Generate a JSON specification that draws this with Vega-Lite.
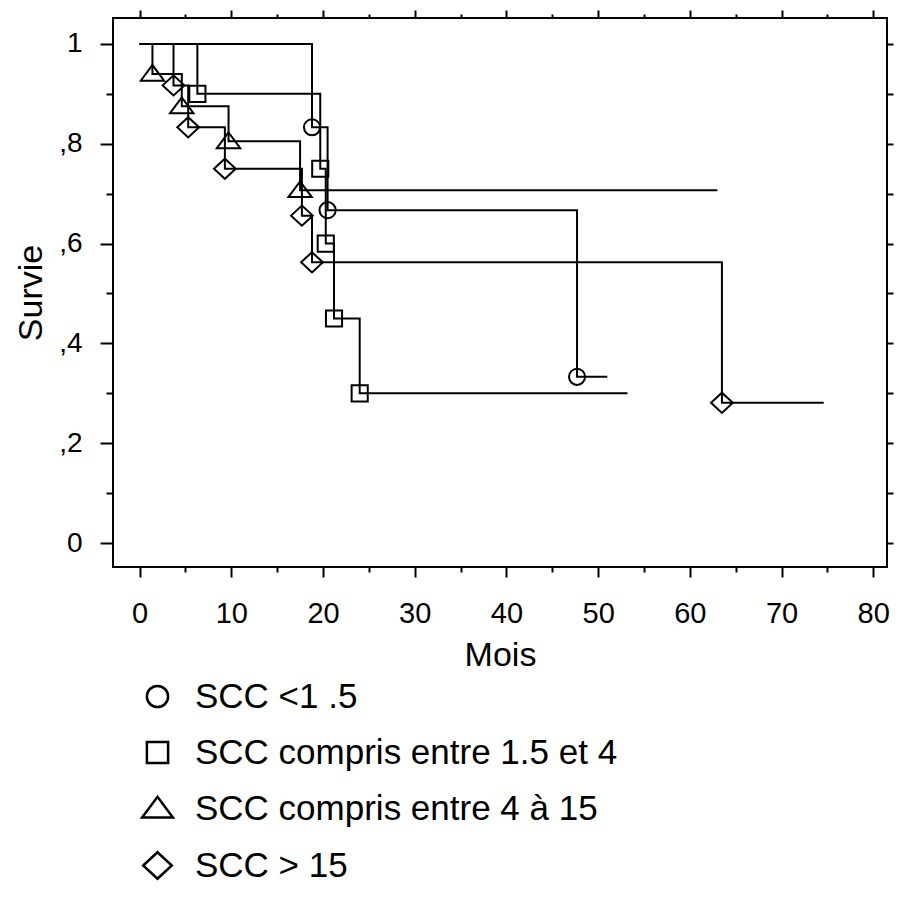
{
  "$schema": "https://vega.github.io/schema/vega-lite/v6.json",
  "autosize": {"type": "none"},
  "padding": {"left": 113, "top": 18, "right": 16, "bottom": 339},
  "width": 774,
  "height": 549,
  "background": "white",
  "config": {
    "view": {"stroke": "black", "strokeWidth": 2},
    "font": "Liberation Sans",
    "axis": {"grid": false, "domain": false, "tickColor": "black", "tickWidth": 2, "labelColor": "black", "titleColor": "black", "labelFont": "Liberation Sans", "titleFont": "Liberation Sans", "titleFontWeight": "normal"}
  },
  "data": {
    "values": [
      {"groupe": "SCC <1 .5", "t": 0, "s": 1, "ev": 0},
      {"groupe": "SCC <1 .5", "t": 18.8, "s": 0.833, "ev": 1},
      {"groupe": "SCC <1 .5", "t": 20.5, "s": 0.667, "ev": 1},
      {"groupe": "SCC <1 .5", "t": 47.7, "s": 0.333, "ev": 1},
      {"groupe": "SCC <1 .5", "t": 51, "s": 0.333, "ev": 0},
      {"groupe": "SCC compris entre 1.5 et 4", "t": 0, "s": 1, "ev": 0},
      {"groupe": "SCC compris entre 1.5 et 4", "t": 6.3, "s": 0.9, "ev": 1},
      {"groupe": "SCC compris entre 1.5 et 4", "t": 19.7, "s": 0.75, "ev": 1},
      {"groupe": "SCC compris entre 1.5 et 4", "t": 20.3, "s": 0.6, "ev": 1},
      {"groupe": "SCC compris entre 1.5 et 4", "t": 21.2, "s": 0.45, "ev": 1},
      {"groupe": "SCC compris entre 1.5 et 4", "t": 24, "s": 0.3, "ev": 1},
      {"groupe": "SCC compris entre 1.5 et 4", "t": 53.2, "s": 0.3, "ev": 0},
      {"groupe": "SCC compris entre 4 à 15", "t": 0, "s": 1, "ev": 0},
      {"groupe": "SCC compris entre 4 à 15", "t": 1.4, "s": 0.94, "ev": 1},
      {"groupe": "SCC compris entre 4 à 15", "t": 4.6, "s": 0.875, "ev": 1},
      {"groupe": "SCC compris entre 4 à 15", "t": 9.7, "s": 0.805, "ev": 1},
      {"groupe": "SCC compris entre 4 à 15", "t": 17.5, "s": 0.707, "ev": 1},
      {"groupe": "SCC compris entre 4 à 15", "t": 63, "s": 0.707, "ev": 0},
      {"groupe": "SCC > 15", "t": 0, "s": 1, "ev": 0},
      {"groupe": "SCC > 15", "t": 3.7, "s": 0.917, "ev": 1},
      {"groupe": "SCC > 15", "t": 5.3, "s": 0.833, "ev": 1},
      {"groupe": "SCC > 15", "t": 9.3, "s": 0.75, "ev": 1},
      {"groupe": "SCC > 15", "t": 17.7, "s": 0.656, "ev": 1},
      {"groupe": "SCC > 15", "t": 18.8, "s": 0.5625, "ev": 1},
      {"groupe": "SCC > 15", "t": 63.5, "s": 0.281, "ev": 1},
      {"groupe": "SCC > 15", "t": 74.6, "s": 0.281, "ev": 0}
    ]
  },
  "resolve": {"axis": {"x": "independent", "y": "independent"}},
  "layer": [
    {
      "mark": {"type": "line", "interpolate": "step-after", "color": "black", "strokeWidth": 2},
      "encoding": {
        "x": {"field": "t", "type": "quantitative", "scale": {"domain": [-2.9, 81.5], "nice": false, "zero": false},
              "axis": {"orient": "bottom", "values": [0, 10, 20, 30, 40, 50, 60, 70, 80], "tickSize": 10, "labelFontSize": 29, "labelPadding": 22, "title": "Mois", "titleFontSize": 34, "titlePadding": 10}},
        "y": {"field": "s", "type": "quantitative", "scale": {"domain": [-0.048, 1.052], "nice": false, "zero": false},
              "axis": {"orient": "left", "values": [0, 0.2, 0.4, 0.6, 0.8, 1], "tickSize": 13, "labelFontSize": 28, "labelPadding": 18,
                       "labelExpr": "datum.value == 0 ? '0' : datum.value == 1 ? '1' : ',' + format(datum.value * 10, '.0f')",
                       "title": "Survie", "titleFontSize": 34, "titlePadding": 10}},
        "detail": {"field": "groupe"}
      }
    },
    {
      "transform": [{"filter": "datum.ev == 1"}],
      "mark": {"type": "point", "filled": false, "color": "black", "strokeWidth": 2, "size": 260, "opacity": 1},
      "encoding": {
        "x": {"field": "t", "type": "quantitative",
              "axis": {"orient": "top", "values": [0, 10, 20, 30, 40, 50, 60, 70, 80], "tickSize": 8, "labels": false, "title": null}},
        "y": {"field": "s", "type": "quantitative",
              "axis": {"orient": "right", "values": [0, 0.1, 0.2, 0.3, 0.4, 0.5, 0.6, 0.7, 0.8, 0.9, 1], "tickSize": 6, "labels": false, "title": null}},
        "shape": {"field": "groupe", "type": "nominal",
                  "scale": {"domain": ["SCC <1 .5", "SCC compris entre 1.5 et 4", "SCC compris entre 4 à 15", "SCC > 15"],
                            "range": ["circle", "square", "M-1.45,0.85L0,-1.1L1.45,0.85Z", "M-1.35,0L0,-1.25L1.35,0L0,1.25Z"]},
                  "legend": {"orient": "none", "legendX": 27, "legendY": 661, "direction": "vertical", "title": null,
                             "labelFontSize": 35, "labelFont": "Liberation Sans", "labelColor": "black", "labelOffset": 20,
                             "symbolSize": 450, "symbolStrokeColor": "black", "symbolFillColor": "white", "symbolStrokeWidth": 2.5, "symbolOpacity": 1,
                             "rowPadding": 20, "labelLimit": 700}}
      }
    },
    {
      "mark": {"type": "line", "strokeOpacity": 0},
      "encoding": {
        "x": {"field": "t", "type": "quantitative",
              "axis": {"orient": "bottom", "values": [5, 15, 25, 35, 45, 55, 65, 75], "tickSize": 5, "labels": false, "title": null}},
        "y": {"field": "s", "type": "quantitative",
              "axis": {"orient": "left", "values": [0.1, 0.3, 0.5, 0.7, 0.9], "tickSize": 7, "labels": false, "title": null}},
        "detail": {"field": "groupe"}
      }
    },
    {
      "mark": {"type": "line", "strokeOpacity": 0},
      "encoding": {
        "x": {"field": "t", "type": "quantitative",
              "axis": {"orient": "top", "values": [5, 15, 25, 35, 45, 55, 65, 75], "tickSize": 4, "labels": false, "title": null}},
        "y": {"field": "s", "type": "quantitative", "axis": null},
        "detail": {"field": "groupe"}
      }
    }
  ]
}
